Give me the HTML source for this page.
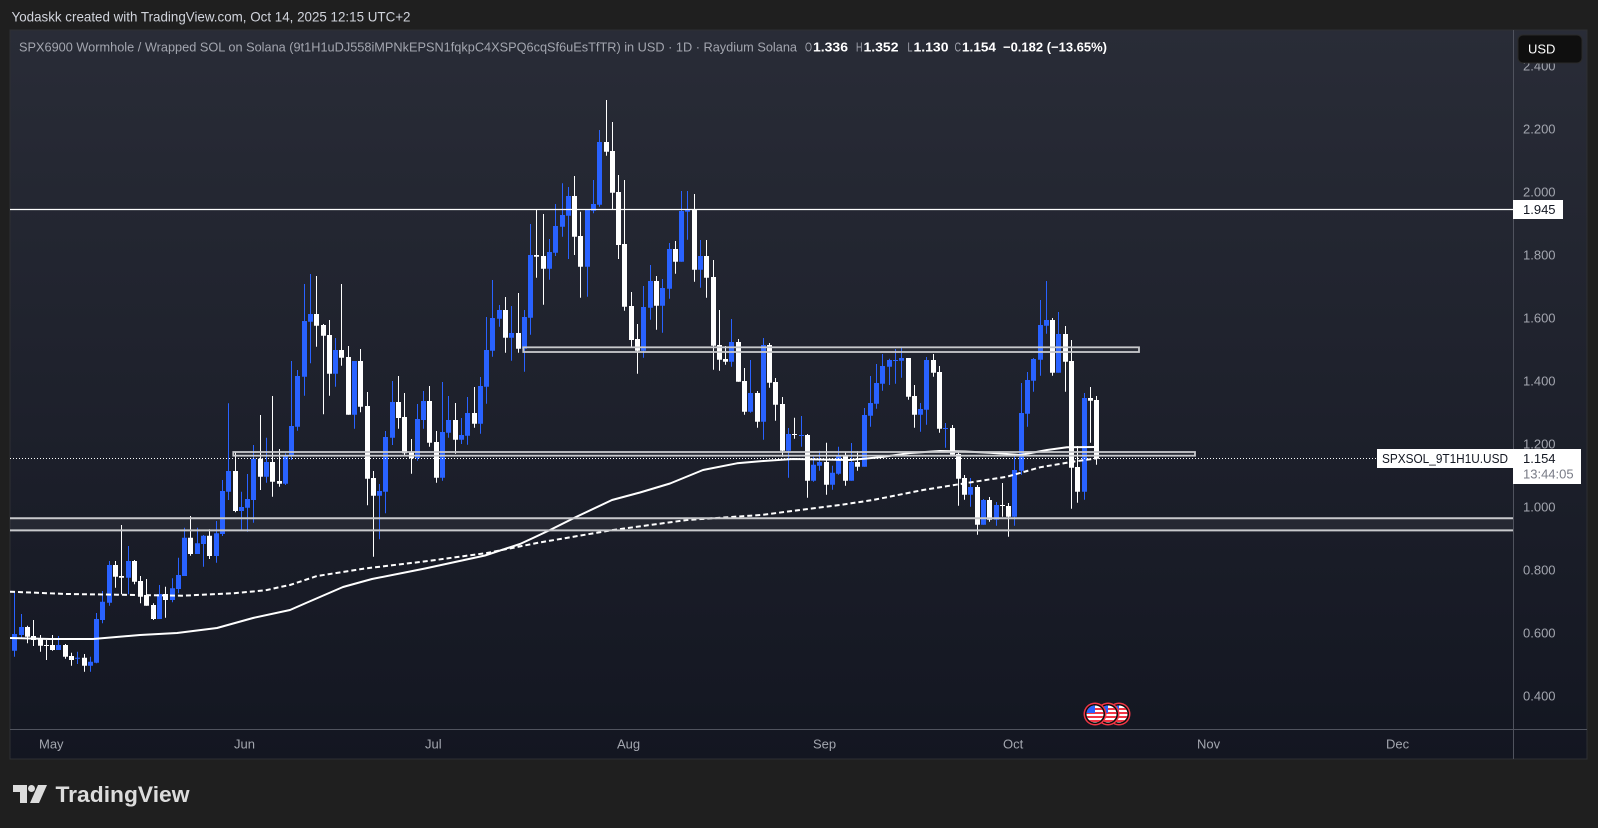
<!DOCTYPE html>
<html><head><meta charset="utf-8"><style>
html,body{margin:0;padding:0;background:#1f1f1f;overflow:hidden;}
svg{display:block;}
text{font-family:"Liberation Sans",Arial,sans-serif;}
</style></head><body>
<svg width="1598" height="828" viewBox="0 0 1598 828" xmlns="http://www.w3.org/2000/svg">
<defs>
<linearGradient id="bg" x1="0" y1="0" x2="0" y2="1">
<stop offset="0" stop-color="#292c37"/><stop offset="1" stop-color="#131621"/>
</linearGradient>
<clipPath id="cp"><rect x="10" y="31" width="1503" height="698"/></clipPath>
<clipPath id="fc"><circle r="8.5"/></clipPath>
</defs>
<rect width="1598" height="828" fill="#1f1f1f"/>
<text x="11.5" y="21.5" font-size="14" fill="#d1d4dc" textLength="399" lengthAdjust="spacingAndGlyphs">Yodaskk created with TradingView.com, Oct 14, 2025 12:15 UTC+2</text>
<rect x="10" y="30" width="1577" height="729" fill="url(#bg)" stroke="#2e2f33" stroke-width="1"/>

<g clip-path="url(#cp)">
<rect x="10" y="518.3" width="1503" height="12" fill="#ffffff" fill-opacity="0.05"/>
<path fill="none" stroke="#2962ff" stroke-width="1" d="M14.5 591.7V656.7M21.5 614V639M58.5 636V650M77.5 651.7V664M90.5 656.7V671.7M96.5 613V663.3M102.5 591V623.3M109.5 561V605.7M128.5 546V594.3M159.5 585V619M172.5 578.3V602.3M178.5 557.7V593.3M184.5 527.7V576M197.5 527.7V554M203.5 535V566.7M216.5 521V562.7M222.5 480V536M228.5 403.3V500M241.5 491.7V530.7M247.5 474V531.7M253.5 445V522.7M266.5 437.7V482.7M285.5 453.3V485M291.5 361V460M297.5 370V430.7M304.5 284V395.7M310.5 274V363.3M335.5 338V386.7M354.5 361V428.7M379.5 484V539.3M385.5 431V513.3M392.5 381V445M417.5 404V460.7M423.5 391V428.7M442.5 382V480.7M448.5 396V437.7M461.5 418V444M467.5 397V444.7M480.5 377V433.7M486.5 317V403.7M492.5 280V356.7M499.5 305V326.7M511.5 306V360.7M524.5 310V371.7M530.5 224V334.7M549.5 239V279.7M555.5 204V256M562.5 183.3V236.7M568.5 187V259M587.5 209V296.7M593.5 180V213.3M599.5 130V206.7M643.5 286V357.7M650.5 265V319.7M662.5 279V332.7M669.5 243V298.7M681.5 191V261.7M687.5 191V239.7M700.5 240V287.7M731.5 319V366.7M750.5 360V412.7M763.5 338V439.7M788.5 428V477.7M801.5 416V446.7M813.5 456.7V481.7M819.5 450.7V470.7M832.5 465.7V489.7M838.5 446.7V474.7M851.5 443V480.7M864.5 408V466.7M870.5 376V426.7M876.5 364V408.7M882.5 354V390.7M889.5 358.7V385M895.5 349V383.7M901.5 347V377.7M920.5 403V431.7M926.5 357V424.7M945.5 423V447.7M970.5 478V506.7M983.5 499V524.7M996.5 502V525.7M1014.5 456V525.7M1021.5 383V474.7M1027.5 372V426.7M1033.5 358V391.7M1040.5 300V375.7M1046.5 281V333.7M1058.5 312V372.7M1084.5 393V499.7"/>
<path fill="none" stroke="#2962ff" stroke-width="5" d="M14.5 634V650.7M21.5 627V635M58.5 645V650M77.5 657.7V658.7M90.5 661.7V665.7M96.5 619V662.7M102.5 601.7V620M109.5 565V602.7M128.5 561V577.7M159.5 594V619M172.5 588.3V600M178.5 575V589M184.5 537.7V576M197.5 543.3V554M203.5 535.7V544M216.5 533.3V556M222.5 491V534M228.5 471V491.7M241.5 507V511M247.5 499V507.7M253.5 458.7V500M266.5 462V476.7M285.5 455.3V483.7M291.5 426V455.7M297.5 376V426.7M304.5 321V376.7M310.5 314V321.7M335.5 350V373.7M354.5 361V414.7M379.5 491V495.7M385.5 437V491.7M392.5 402V437.7M417.5 419V458.3M423.5 401V420M442.5 432V477.7M448.5 420V432.7M461.5 435V439.7M467.5 413V435.7M480.5 386V423.7M486.5 350V386.7M492.5 318V350.7M499.5 310V318.7M511.5 333V337.7M524.5 317V348.7M530.5 255V317.7M549.5 252V268.7M555.5 226V252.7M562.5 215V226.7M568.5 196V215.7M587.5 210V266.7M593.5 204V210.7M599.5 142V204.7M643.5 307V350.7M650.5 281V307.7M662.5 288V305.7M669.5 249V288.7M681.5 211V261.7M687.5 209V211.7M700.5 256V269.7M731.5 342V361.7M750.5 393V411.7M763.5 345V421.7M788.5 434V450.7M801.5 435V436M813.5 464.7V480.7M819.5 462V465.7M832.5 472.7V484.7M838.5 455.7V473.7M851.5 462V480.7M864.5 415V466.7M870.5 403V415.7M876.5 383V403.7M882.5 366V383.7M889.5 360V366.7M895.5 360V361M901.5 358V360.7M920.5 409V414.7M926.5 360V409.7M945.5 428V429M970.5 487V494.7M983.5 500V524.7M996.5 505V519.7M1014.5 470V516.7M1021.5 413V470.7M1027.5 380V413.7M1033.5 359V380.7M1040.5 325V359.7M1046.5 320V325.7M1058.5 334V372.7M1084.5 398V491.7"/>
<path fill="none" stroke="#ffffff" stroke-width="1" d="M27.5 625.7V643.3M33.5 620V646M40.5 635V651.7M46.5 640V660M52.5 635V650.7M65.5 644V658.7M71.5 652.7V665.7M84.5 654V671.7M115.5 561V587.7M121.5 525V594.3M134.5 560V584.3M140.5 576V603.3M146.5 579V605.7M153.5 603.3V620M165.5 586.7V617.7M190.5 516V555.7M209.5 529.3V559M235.5 452.3V512.3M260.5 415V490M272.5 396V496.7M279.5 449V486.7M316.5 276V346.7M323.5 324V414.3M329.5 320V395.7M341.5 284V365.7M348.5 346V414.7M360.5 349V412.3M367.5 392V505.3M373.5 471V556.7M398.5 376V428.7M404.5 393V455.7M411.5 439V473.7M429.5 386V446.7M436.5 431V482.7M455.5 403V453.7M474.5 387V427.7M505.5 297V352.7M518.5 293V352.7M536.5 210V277.7M543.5 214V304.7M574.5 176V255M580.5 211.7V297.7M606.5 100V155.7M612.5 122V209M618.5 175V259M624.5 180V310.7M631.5 292V346.7M637.5 324V373.7M656.5 276V329.7M675.5 241V273.7M694.5 194V281.7M706.5 240V297.7M713.5 260V369.7M719.5 310V370.7M725.5 346V364.7M738.5 339V381.7M744.5 368V414.7M757.5 391V427.7M769.5 343V387.7M775.5 378V420.7M782.5 397V456.7M794.5 417.7V438.7M807.5 434V497.7M826.5 442.7V494.7M845.5 451.7V485.7M857.5 451V470.7M908.5 358V399.7M914.5 385V427.7M933.5 354V376.7M939.5 366V432.7M952.5 425V454.7M958.5 452V505.7M964.5 475V499.7M977.5 485V534.7M989.5 497V521.7M1002.5 483V516.7M1008.5 503V536.7M1052.5 318V375.7M1065.5 326V391.7M1071.5 340V508.7M1077.5 446V502.7M1090.5 387V442.7M1096.5 396V464.7"/>
<path fill="none" stroke="#ffffff" stroke-width="5" d="M27.5 627V636.7M33.5 636V640M40.5 638.3V645.7M46.5 645V646M52.5 645V650M65.5 645V656.7M71.5 656V660M84.5 657.7V665.7M115.5 565V576.7M121.5 576V577.7M134.5 561V581.7M140.5 581V596.7M146.5 595V605.7M153.5 605V619M165.5 594V600M190.5 537.7V554M209.5 535.7V556M235.5 471V511M260.5 458.7V476.7M272.5 462V481.7M279.5 481V483.7M316.5 314V325.7M323.5 325V335.7M329.5 335V373.7M341.5 350V357.7M348.5 357V414.7M360.5 361V406.7M367.5 406V478.7M373.5 478V495.7M398.5 402V418M404.5 417V453.3M411.5 452V458.3M429.5 401V442.7M436.5 442V477.7M455.5 420V439.7M474.5 413V423.7M505.5 310V337.7M518.5 333V348.7M536.5 255V256.7M543.5 256V268.7M574.5 196V236.7M580.5 236V266.7M606.5 142V151.7M612.5 151V192.7M618.5 192V245M624.5 244V306.7M631.5 306V340M637.5 339V350.7M656.5 281V305.7M675.5 249V261.7M694.5 209.7V269.7M706.5 256V277.7M713.5 277V345.7M719.5 345V359.7M725.5 359V361.7M738.5 342V381.7M744.5 381V411.7M757.5 393V421.7M769.5 345V382.7M775.5 382V404.7M782.5 404V450.7M794.5 434V435M807.5 435V480.7M826.5 462V484.7M845.5 455.7V480.7M857.5 462V466.7M908.5 358V396.7M914.5 396V414.7M933.5 360V372.7M939.5 372V428.7M952.5 428V454.7M958.5 454V478.7M964.5 478V494.7M977.5 487V524.7M989.5 500V519.7M1002.5 505V506M1008.5 506V516.7M1052.5 320V372.7M1065.5 334V361.7M1071.5 361V467.7M1077.5 467V491.7M1090.5 398V400.7M1096.5 400V458.7"/>

<polyline fill="none" stroke="#ffffff" stroke-width="2" stroke-linejoin="round" points="10,638 50,639 93,639 140,635 177,633 217,628 253,618 290,610 306,603 343,587 372,579 425,568.5 485,555.5 520,544 533,538 550,530 570,520 576,517 612,500 640,492.5 670,483.5 703,470 737,463.3 767,460.7 793,459 820,459.5 850,460 880,457.3 910,453 940,451 965,451.5 990,452.7 1020,455 1047,450 1067,447.3 1097,447"/>
<polyline fill="none" stroke="#ffffff" stroke-width="2" stroke-dasharray="5 3" points="10,591.7 67,594 117,594.7 183,595.7 233,593.3 253,591.5 267,590 280,587 290,585 317,576 365,568.5 428,561 487,553 539,542.6 613,530 687,520 761,515 800,510 840,505 873,500 923,490 973,482 1007,476.7 1040,467.3 1073,461.7 1097,458.3"/>

<line x1="10" y1="209.5" x2="1513" y2="209.5" stroke="#ffffff" stroke-width="1.2"/>
<rect x="523.3" y="347.3" width="615.7" height="4.7" fill="#ffffff" fill-opacity="0.05" stroke="#c8c9cc" stroke-width="1.8"/>
<rect x="233.3" y="452" width="961.7" height="3.7" fill="#ffffff" fill-opacity="0.05" stroke="#c8c9cc" stroke-width="1.8"/>
<line x1="10" y1="518.3" x2="1513" y2="518.3" stroke="#c8c9cc" stroke-width="2"/>
<line x1="10" y1="530.4" x2="1513" y2="530.4" stroke="#c8c9cc" stroke-width="2"/>
<line x1="10" y1="458.5" x2="1377" y2="458.5" stroke="#ffffff" stroke-width="1" stroke-dasharray="1 2"/>

<g transform="translate(1119,714)"><circle r="11.5" fill="#f23645"/><circle r="10" fill="#0b0b0b"/><g clip-path="url(#fc)"><rect x="-9" y="-9" width="18" height="18" fill="#fff"/><rect x="-9" y="-6" width="18" height="2" fill="#f23645"/><rect x="-9" y="-2" width="18" height="2" fill="#f23645"/><rect x="-9" y="2" width="18" height="2" fill="#f23645"/><rect x="-9" y="6" width="18" height="2" fill="#f23645"/><rect x="-9" y="-9" width="9" height="8" fill="#2962ff"/></g></g>
<g transform="translate(1108,714)"><circle r="11.5" fill="#f23645"/><circle r="10" fill="#0b0b0b"/><g clip-path="url(#fc)"><rect x="-9" y="-9" width="18" height="18" fill="#fff"/><rect x="-9" y="-6" width="18" height="2" fill="#f23645"/><rect x="-9" y="-2" width="18" height="2" fill="#f23645"/><rect x="-9" y="2" width="18" height="2" fill="#f23645"/><rect x="-9" y="6" width="18" height="2" fill="#f23645"/><rect x="-9" y="-9" width="9" height="8" fill="#2962ff"/></g></g>
<g transform="translate(1095,714)"><circle r="11.5" fill="#f23645"/><circle r="10" fill="#0b0b0b"/><g clip-path="url(#fc)"><rect x="-9" y="-9" width="18" height="18" fill="#fff"/><rect x="-9" y="-6" width="18" height="2" fill="#f23645"/><rect x="-9" y="-2" width="18" height="2" fill="#f23645"/><rect x="-9" y="2" width="18" height="2" fill="#f23645"/><rect x="-9" y="6" width="18" height="2" fill="#f23645"/><rect x="-9" y="-9" width="9" height="8" fill="#2962ff"/></g></g>
</g>

<line x1="10" y1="729.5" x2="1587" y2="729.5" stroke="#50535e" stroke-width="1"/>
<line x1="1513.5" y1="30" x2="1513.5" y2="759" stroke="#50535e" stroke-width="1"/>

<text x="19" y="51.6" font-size="13" fill="#a3a6af" textLength="778" lengthAdjust="spacingAndGlyphs">SPX6900 Wormhole / Wrapped SOL on Solana (9t1H1uDJ558iMPNkEPSN1fqkpC4XSPQ6cqSf6uEsTfTR) in USD · 1D · Raydium Solana</text>
<text x="805" y="51.6" font-size="13" fill="#a3a6af" textLength="7" lengthAdjust="spacingAndGlyphs">O</text>
<text x="813" y="51.6" font-size="13" font-weight="700" fill="#ffffff" textLength="35" lengthAdjust="spacingAndGlyphs">1.336</text>
<text x="856" y="51.6" font-size="13" fill="#a3a6af" textLength="6.5" lengthAdjust="spacingAndGlyphs">H</text>
<text x="863.5" y="51.6" font-size="13" font-weight="700" fill="#ffffff" textLength="35" lengthAdjust="spacingAndGlyphs">1.352</text>
<text x="907.5" y="51.6" font-size="13" fill="#a3a6af" textLength="5" lengthAdjust="spacingAndGlyphs">L</text>
<text x="913.5" y="51.6" font-size="13" font-weight="700" fill="#ffffff" textLength="35" lengthAdjust="spacingAndGlyphs">1.130</text>
<text x="954.5" y="51.6" font-size="13" fill="#a3a6af" textLength="6.5" lengthAdjust="spacingAndGlyphs">C</text>
<text x="962" y="51.6" font-size="13" font-weight="700" fill="#ffffff" textLength="34" lengthAdjust="spacingAndGlyphs">1.154</text>
<text x="1003" y="51.6" font-size="13" font-weight="700" fill="#ffffff" textLength="104" lengthAdjust="spacingAndGlyphs">−0.182 (−13.65%)</text>

<g font-size="13" fill="#a3a6af">
<text x="1523" y="70.6">2.400</text>
<text x="1523" y="133.6">2.200</text>
<text x="1523" y="196.6">2.000</text>
<text x="1523" y="259.6">1.800</text>
<text x="1523" y="322.6">1.600</text>
<text x="1523" y="385.6">1.400</text>
<text x="1523" y="448.6">1.200</text>
<text x="1523" y="511.6">1.000</text>
<text x="1523" y="574.6">0.800</text>
<text x="1523" y="637.6">0.600</text>
<text x="1523" y="700.6">0.400</text>
</g>
<rect x="1518" y="35" width="64" height="28" rx="5" fill="#0f0f0f" stroke="#2a2a2a" stroke-width="1"/>
<text x="1528" y="53.6" font-size="13" fill="#ffffff">USD</text>

<rect x="1513" y="200" width="50" height="19" fill="#ffffff"/>
<text x="1523" y="214.2" font-size="13" fill="#131722">1.945</text>

<rect x="1377" y="449" width="136" height="19" fill="#ffffff"/>
<text x="1382" y="463.2" font-size="13" fill="#131722" textLength="126" lengthAdjust="spacingAndGlyphs">SPXSOL_9T1H1U.USD</text>
<rect x="1513" y="449" width="68" height="35" fill="#ffffff"/>
<text x="1523" y="463.2" font-size="13" fill="#131722">1.154</text>
<text x="1523" y="478.6" font-size="13" fill="#787b86">13:44:05</text>

<g font-size="13" fill="#a3a6af">
<text x="39" y="748.6">May</text>
<text x="234" y="748.6">Jun</text>
<text x="425" y="748.6">Jul</text>
<text x="617" y="748.6">Aug</text>
<text x="813" y="748.6">Sep</text>
<text x="1003" y="748.6">Oct</text>
<text x="1197" y="748.6">Nov</text>
<text x="1386" y="748.6">Dec</text>
</g>

<g fill="#dcdcdc">
<polygon points="13,785 27,785 27,803 20,803 20,792 13,792"/>
<circle cx="31.5" cy="788.5" r="3.5"/>
<polygon points="38,785 47,785 39,803 30,803"/>
</g>
<text x="55.5" y="802" font-size="22" font-weight="700" fill="#dcdcdc" textLength="134" lengthAdjust="spacingAndGlyphs">TradingView</text>
</svg>
</body></html>
